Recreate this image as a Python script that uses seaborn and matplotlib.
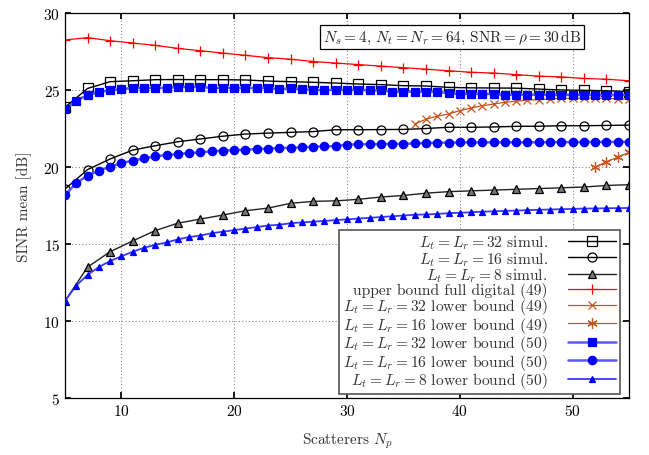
import numpy as np
import pandas as pd
import matplotlib
matplotlib.use("Agg")
import matplotlib.pyplot as plt
import seaborn as sns

# ---------------- data ----------------
np_odd = list(range(5, 56, 2))
np_all = list(range(5, 56))

upper_full = [28.25, 28.4, 28.2, 28.05, 27.9, 27.7, 27.55, 27.4, 27.25, 27.1, 27.0, 26.85, 26.75,
              26.65, 26.55, 26.45, 26.35, 26.25, 26.15, 26.1, 26.0, 25.9, 25.85, 25.75, 25.7, 25.6]

sim32 = [23.88, 25.1, 25.54, 25.6, 25.67, 25.68, 25.67, 25.67, 25.65, 25.58, 25.54, 25.5, 25.45,
         25.39, 25.35, 25.28, 25.26, 25.17, 25.14, 25.13, 25.12, 25.06, 25.0, 24.98, 24.95, 24.9]
sim16 = [18.57, 19.83, 20.52, 21.1, 21.38, 21.64, 21.82, 22.0, 22.14, 22.2, 22.25, 22.3, 22.42,
         22.42, 22.43, 22.44, 22.5, 22.58, 22.58, 22.6, 22.64, 22.65, 22.68, 22.68, 22.7, 22.72]
sim8 = [11.3, 13.5, 14.5, 15.2, 15.87, 16.35, 16.62, 16.88, 17.16, 17.33, 17.64, 17.77, 17.8,
        17.9, 18.05, 18.15, 18.3, 18.4, 18.45, 18.5, 18.55, 18.6, 18.65, 18.7, 18.8, 18.85]

lb32_50 = [23.77, 24.3, 24.68, 24.85, 25.0, 25.06, 25.13, 25.13, 25.14, 25.13, 25.2, 25.2, 25.2,
           25.13, 25.14, 25.13, 25.13, 25.13, 25.12, 25.06, 25.1, 25.06, 25.0, 25.0, 25.0,
           25.0, 25.0, 24.98, 24.97, 24.89, 24.89, 24.89, 24.89, 24.89, 24.78, 24.74, 24.76,
           24.74, 24.74, 24.68, 24.7, 24.7, 24.69, 24.69, 24.68, 24.68, 24.68, 24.68, 24.68,
           24.68, 24.68]
lb16_50 = [18.18, 18.96, 19.44, 19.76, 20.02, 20.26, 20.41, 20.56, 20.69, 20.78, 20.84, 20.91,
           20.95, 21.02, 21.06, 21.1, 21.12, 21.17, 21.19, 21.23, 21.25, 21.27, 21.32, 21.34,
           21.36, 21.45, 21.47, 21.48, 21.49, 21.5, 21.5, 21.53, 21.56, 21.58, 21.58, 21.6,
           21.6, 21.6, 21.6, 21.6, 21.6, 21.6, 21.61, 21.61, 21.62, 21.62, 21.62, 21.63, 21.63,
           21.63, 21.64]
lb8_50 = [11.3, 12.3, 13.0, 13.5, 13.9, 14.2, 14.5, 14.75, 14.95, 15.1, 15.3, 15.45, 15.55, 15.7,
          15.8, 15.9, 16.0, 16.1, 16.2, 16.25, 16.35, 16.4, 16.45, 16.5, 16.55, 16.6, 16.65,
          16.7, 16.75, 16.8, 16.85, 16.9, 16.92, 16.95, 17.0, 17.03, 17.06, 17.1, 17.12, 17.15,
          17.17, 17.2, 17.22, 17.24, 17.26, 17.28, 17.3, 17.31, 17.32, 17.33, 17.34]

np_lb32_49 = list(range(36, 56))
lb32_49 = [22.8, 23.1, 23.3, 23.45, 23.66, 23.83, 23.98, 24.09, 24.2, 24.27, 24.35, 24.37, 24.42,
           24.46, 24.46, 24.47, 24.47, 24.46, 24.42, 24.4]
np_lb16_49 = [52, 53, 54, 55]
lb16_49 = [19.98, 20.35, 20.63, 20.95]

# ---------------- style ----------------
sns.set_theme(style="ticks")
plt.rcParams["font.family"] = ["cmr10", "DejaVu Serif"]
plt.rcParams["mathtext.fontset"] = "cm"
plt.rcParams["axes.formatter.use_mathtext"] = True
plt.rcParams["axes.unicode_minus"] = False

fig = plt.figure(figsize=(6.49, 4.56), dpi=100)
ax = fig.add_axes([65 / 649, 57 / 456, 564 / 649, 385 / 456])

orange = "#c8541e"
blue = "#0000ff"

def draw(x, y, label, color, marker, ms, mfc=None, mec=None, lw=1.0, lcolor=None, mew=0.9, z=2):
    sns.lineplot(x=x, y=y, ax=ax, label=label, color=lcolor or color, marker=marker,
                 markersize=ms, markerfacecolor=mfc if mfc is not None else color,
                 markeredgecolor=mec if mec is not None else color, markeredgewidth=mew,
                 linewidth=lw, zorder=z, errorbar=None)

draw(np_odd, sim32, r"$L_t=L_r=32$ simul.", "black", "s", 6.5, mfc="none", mec="black")
draw(np_odd, sim16, r"$L_t=L_r=16$ simul.", "black", "o", 6.5, mfc="none", mec="black")
draw(np_odd, sim8, r"$L_t=L_r=8$ simul.", "black", "^", 6.0, mfc="#777777", mec="black",
     lcolor="#222222")
draw(np_odd, upper_full, "upper bound full digital (49)", "red", "+", 7, lw=0.9)
draw(np_lb32_49, lb32_49, r"$L_t=L_r=32$ lower bound (49)", orange, "x", 6, lw=0.9)
draw(np_lb16_49, lb16_49, r"$L_t=L_r=16$ lower bound (49)", orange, (6, 2, 0), 7.5, lw=0.9)
draw(np_all, lb32_50, r"$L_t=L_r=32$ lower bound (50)", blue, "s", 6.0, lcolor="#5a5aff", lw=1.8, z=3)
draw(np_all, lb16_50, r"$L_t=L_r=16$ lower bound (50)", blue, "o", 6.0, lcolor="#5a5aff", lw=1.8, z=3)
draw(np_all, lb8_50, r"$L_t=L_r=8$ lower bound (50)", blue, "^", 5.0, lcolor="#3a3aff", lw=1.3, z=3)

ax.set_xlim(5, 55)
ax.set_ylim(5, 30)
ax.set_xticks([10, 20, 30, 40, 50])
ax.set_yticks([5, 10, 15, 20, 25, 30])
ax.grid(True, linestyle=(0, (1, 2)), color="#888888", linewidth=0.8)
ax.tick_params(direction="in", top=True, right=True, labelsize=11, length=4, colors="black")
for s in ax.spines.values():
    s.set_color("black")
    s.set_linewidth(0.9)

ax.set_xlabel(r"Scatterers $N_p$", fontsize=11, color="#333333", labelpad=9)
ax.set_ylabel("SINR mean [dB]", fontsize=11, color="#333333", labelpad=8)

ax.text(0.686, 0.938, r"$N_s=4$, $N_t=N_r=64$, SNR$=\rho=30\,$dB", transform=ax.transAxes,
        ha="center", va="center", fontsize=11,
        bbox=dict(boxstyle="square,pad=0.2", facecolor="white", edgecolor="black", linewidth=0.9))

leg = ax.legend(loc="lower right", bbox_to_anchor=(0.984, 0.01), borderaxespad=0,
                markerfirst=False, fontsize=11.2,
                frameon=True, fancybox=False, framealpha=1, edgecolor="#555555",
                labelspacing=-0.1, handlelength=3.1, borderpad=0.25, handletextpad=1.3)
leg.get_frame().set_linewidth(1.2)
for t in leg.get_texts():
    t.set_color("#333333")

fig.savefig("out.png", dpi=100)
